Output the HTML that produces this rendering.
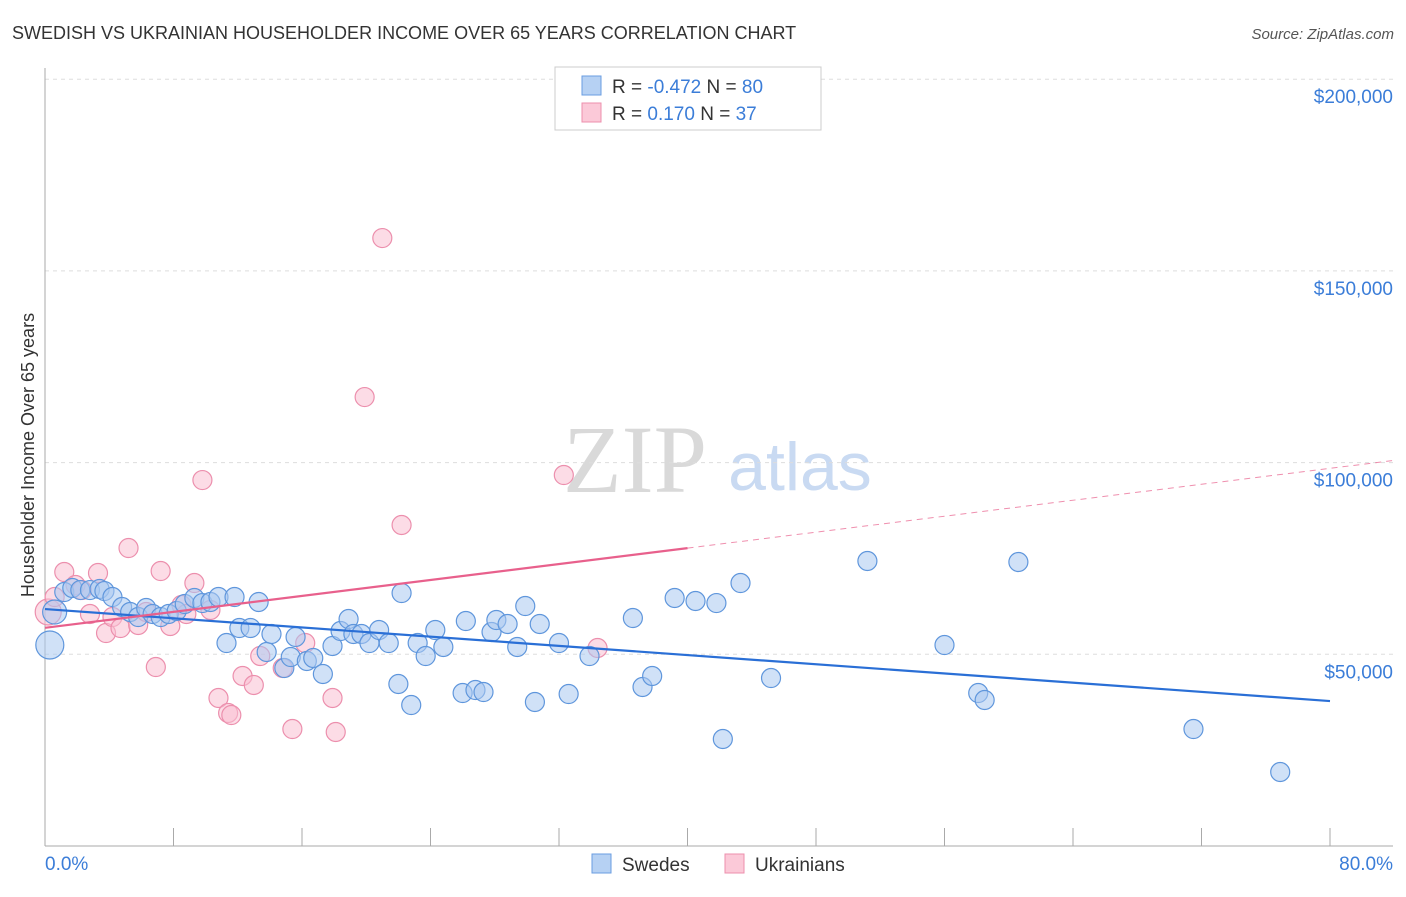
<!DOCTYPE html>
<html><head><meta charset="utf-8"><style>
body{margin:0;background:#fff;font-family:"Liberation Sans",sans-serif;}
svg text{font-family:"Liberation Sans",sans-serif;}
</style></head><body>
<svg id="c" width="1406" height="892" xmlns="http://www.w3.org/2000/svg">
<text x="12" y="39" font-size="18" fill="#333">SWEDISH VS UKRAINIAN HOUSEHOLDER INCOME OVER 65 YEARS CORRELATION CHART</text>
<text x="1394" y="39" font-size="15" fill="#555" font-style="italic" text-anchor="end">Source: ZipAtlas.com</text>
<text x="635" y="492" font-size="96" fill="#d9d9d9" font-family="Liberation Serif" text-anchor="middle" style="font-family:'Liberation Serif',serif">ZIP</text>
<text x="800" y="490" font-size="68" fill="#c9daf2" text-anchor="middle">atlas</text>
<text transform="translate(34,455) rotate(-90)" font-size="18" fill="#333" text-anchor="middle">Householder Income Over 65 years</text>
<g id="grid"></g><g id="pts"></g><g id="trend"></g>
<g>
<rect x="555" y="67" width="266" height="63" fill="#fff" stroke="#ccc"/>
<rect x="582" y="76" width="19" height="19" fill="#b6d1f3" stroke="#6a9de0"/>
<rect x="582" y="103" width="19" height="19" fill="#fbc9d8" stroke="#ec8fad"/>
<text x="612" y="93" font-size="19" fill="#333">R = <tspan fill="#3b7dd8">-0.472</tspan>   N = <tspan fill="#3b7dd8">80</tspan></text>
<text x="612" y="120" font-size="19" fill="#333">R =   <tspan fill="#3b7dd8">0.170</tspan>   N =  <tspan fill="#3b7dd8">37</tspan></text>
</g>
<g>
<rect x="592" y="854" width="19" height="19" fill="#b6d1f3" stroke="#6a9de0"/>
<text x="622" y="871" font-size="19" fill="#333">Swedes</text>
<rect x="725" y="854" width="19" height="19" fill="#fbc9d8" stroke="#ec8fad"/>
<text x="755" y="871" font-size="19" fill="#333">Ukrainians</text>
</g>
</svg>
<script>
const yTicks=[50000,100000,150000,200000];
const yTickLabels=["$50,000","$100,000","$150,000","$200,000"];
const xTicks=[0,8,16,24,32,40,48,56,64,72,80];
const xEndLabels=["0.0%","80.0%"];
const blueX=[0.3,0.6,1.2,1.7,2.2,2.8,3.4,3.7,4.2,4.8,5.3,5.8,6.3,6.7,7.2,7.7,8.2,8.7,9.3,9.8,10.3,10.8,11.3,11.8,12.1,12.8,13.3,13.8,14.1,14.9,15.3,15.6,16.3,16.7,17.3,17.9,18.4,18.9,19.2,19.7,20.2,20.8,21.4,22.0,22.2,22.8,23.2,23.7,24.3,24.8,26.0,26.2,26.8,27.3,27.8,28.1,28.8,29.4,29.9,30.5,30.8,32.0,32.6,33.9,36.6,37.2,37.8,39.2,40.5,41.8,42.2,43.3,45.2,51.2,56.0,58.1,58.5,60.6,71.5,76.9];
const blueY=[52420,61030,66240,67290,66760,66760,67030,66500,64940,62330,61030,59720,62070,60510,59720,60510,61290,63110,64680,63370,63640,64940,52940,64940,56850,56850,63640,50600,55290,46420,49290,54510,48250,49030,44860,52160,56070,59200,55290,55290,52940,56330,52940,42250,65980,36770,52940,49550,56330,51900,39900,58680,40680,40160,55810,58940,57900,51900,62590,37560,57900,52940,39640,49550,59460,41470,44340,64680,63900,63370,27910,68590,43810,74330,52420,39900,38080,74070,30510,19300];
const pinkX=[0.2,0.6,1.2,1.9,2.3,2.8,3.3,3.8,4.2,4.7,5.2,5.8,6.3,6.9,7.2,7.8,8.5,8.8,9.3,9.8,10.3,10.8,11.4,11.6,12.3,13.0,13.4,14.8,15.4,16.2,17.9,18.1,19.9,21.0,22.2,32.3,34.4];
const pinkY=[61030,64940,71460,68070,66760,60510,71200,55550,59720,56850,77720,57640,61030,46680,71720,57380,62850,60510,68590,95450,61550,38600,34690,34160,44340,41990,49550,46420,30510,52940,38600,29730,117100,158570,83720,96760,51640];
const blueTrend=[61800,37800];   // value at 0% and 80%
const pinkTrend=[56900,77700];   // value at 0% and 40%
const X=v=>45+v/80*1285, Y=v=>846-v/50000*191.7;
const NS="http://www.w3.org/2000/svg";
function mk(tag,attrs,parent){const e=document.createElementNS(NS,tag);for(const k in attrs)e.setAttribute(k,attrs[k]);parent.appendChild(e);return e;}
const grid=document.getElementById('grid'),pts=document.getElementById('pts'),tr=document.getElementById('trend');
yTicks.forEach((t,i)=>{
 const l=mk('line',{x1:45,x2:1393,y1:Y(t),y2:Y(t),stroke:'#ddd','stroke-dasharray':'4,4'},grid);
 
 
 const tx=mk('text',{x:1393,y:Y(t)+24,'font-size':19,fill:'#3b7dd8','text-anchor':'end'},grid);
 tx.textContent=yTickLabels[i];
 
 
});
const ax=mk('line',{x1:45,x2:45,y1:68,y2:846,stroke:'#aaa'},grid);


const bx=mk('line',{x1:45,x2:1393,y1:846,y2:846,stroke:'#aaa'},grid);


xTicks.forEach(t=>{
 const l=mk('line',{x1:X(t),x2:X(t),y1:828,y2:846,stroke:'#aaa'},grid);
 
 
});
[[0,'start'],[80,'end']].forEach((p,i)=>{
 const tx=mk('text',{x:i?1393:45,y:870,'font-size':19,fill:'#3b7dd8','text-anchor':p[1]},grid);
 tx.textContent=xEndLabels[i];
 
 
});
function dots(xs,ys,fill,stroke,big,name){
 xs.forEach((x,i)=>{
  const r=big[i]||9.5;
  const c=mk('circle',{cx:X(x),cy:Y(ys[i]),r:r,fill:fill,'fill-opacity':0.55,stroke:stroke,'stroke-width':1.2},pts);
  
  
 });
}
dots(pinkX,pinkY,'#f9c0d2','#ec8fad',{0:13},'ukrainian-point');
dots(blueX,blueY,'#a9c8f0','#5f96dc',{0:14,1:12},'swede-point');
const bl=mk('line',{x1:X(0),y1:Y(blueTrend[0]),x2:X(80),y2:Y(blueTrend[1]),stroke:'#2a6fd6','stroke-width':2.2},tr);


const pl=mk('line',{x1:X(0),y1:Y(pinkTrend[0]),x2:X(40),y2:Y(pinkTrend[1]),stroke:'#e8608c','stroke-width':2.2},tr);


const slope=(pinkTrend[1]-pinkTrend[0])/40, xe=(1393-45)/1285*80;
const pd=mk('line',{x1:X(40),y1:Y(pinkTrend[1]),x2:X(xe),y2:Y(pinkTrend[0]+slope*xe),stroke:'#e8608c','stroke-width':1,'stroke-dasharray':'6,5','stroke-opacity':0.7},tr);


</script>
</body></html>
